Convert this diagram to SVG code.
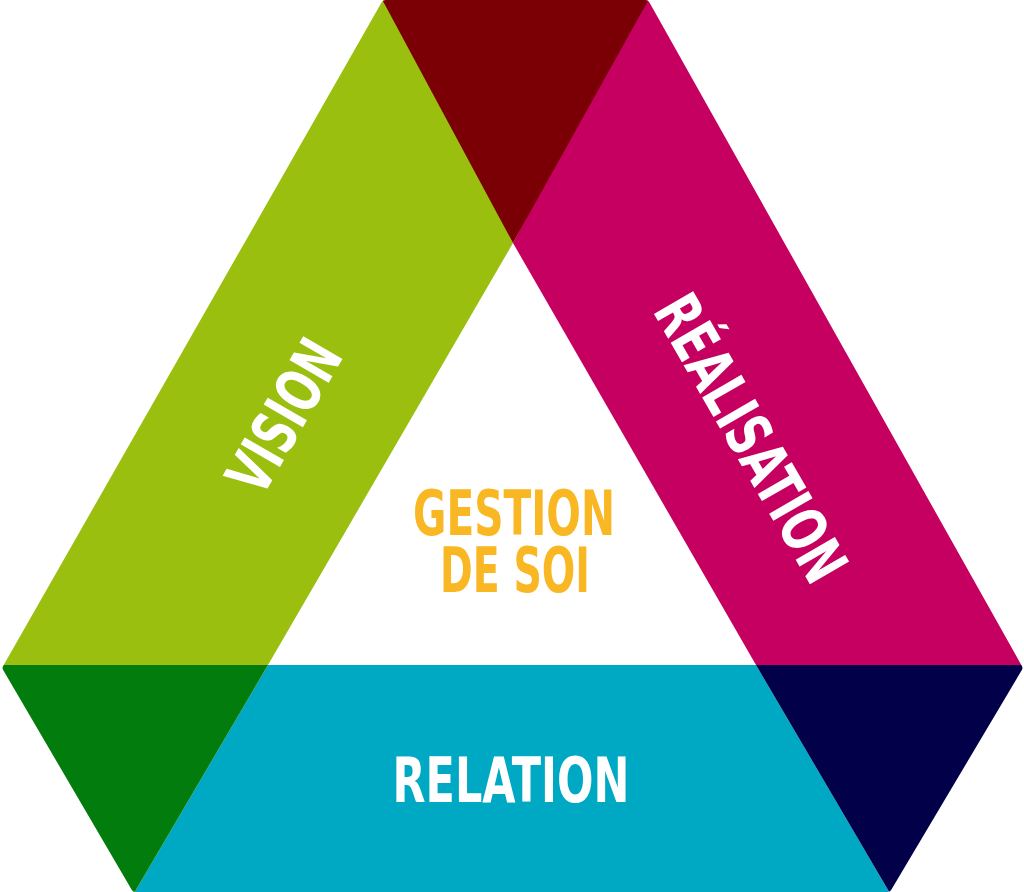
<svg xmlns="http://www.w3.org/2000/svg" width="1024" height="892" viewBox="0 0 1024 892">
<defs>
<style>
.lbl{font-family:"Liberation Sans Narrow","DejaVu Sans Condensed","Liberation Sans",sans-serif;font-weight:bold;font-size:62px;text-anchor:middle;}
.w{fill:#ffffff;}
.y{fill:#f9b723;}
</style>
<mask id="outer" maskUnits="userSpaceOnUse" x="0" y="0" width="1024" height="892">
<polygon points="385.3,4 645.7,4 1018.4,668 887.7,888 135.3,888 6.6,668" fill="#fff" stroke="#fff" stroke-width="8" stroke-linejoin="round"/>
</mask>
</defs>
<rect width="1024" height="892" fill="#ffffff"/>
<g id="shapes" mask="url(#outer)">
<g id="vision-band"><polygon points="383,-10 513,243 268,665 -10,665 -10,660" fill="#9abf0f"/><polygon points="383,-10 -20,680 -20,-10" fill="#9abf0f" opacity="0"/></g>
<g id="realisation-band"><polygon points="648,-10 1034,665 756,665 513,243" fill="#c60061"/></g>
<g id="top-overlap"><polygon points="377,-10 654,-10 513,243" fill="#7a0006"/></g>
<g id="relation-band"><polygon points="268,665 756,665 891,895 133,895" fill="#00a9c3"/></g>
<g id="left-overlap"><polygon points="-10,665 268,665 133,895 -10,895" fill="#027c0c"/></g>
<g id="right-overlap"><polygon points="756,665 1034,665 1034,895 891,895" fill="#020049"/></g>
</g>
<g id="connectors"></g>
<g id="labels">
<g id="vision"><text class="lbl w" transform="translate(284,416) rotate(-60)" y="22" textLength="165" lengthAdjust="spacingAndGlyphs">VISION</text></g>
<g id="realisation"><text class="lbl w" transform="translate(751,438) rotate(60)" y="22" textLength="320" lengthAdjust="spacingAndGlyphs">RÉALISATION</text></g>
<g id="gestion"><text class="lbl y" x="514" y="535" textLength="202" lengthAdjust="spacingAndGlyphs">GESTION</text><text class="lbl y" x="515" y="592" textLength="150" lengthAdjust="spacingAndGlyphs">DE SOI</text></g>
<g id="relation"><text class="lbl w" x="511" y="802" textLength="237" lengthAdjust="spacingAndGlyphs">RELATION</text></g>
</g>
</svg>
